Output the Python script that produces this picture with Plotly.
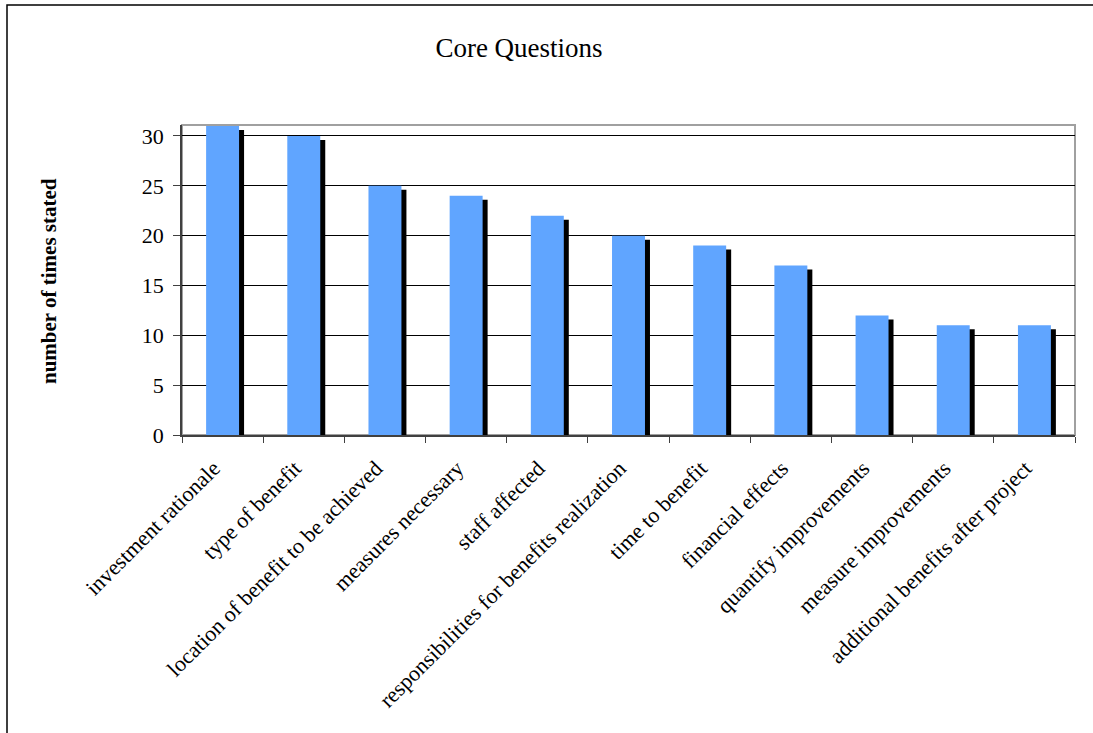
import plotly.graph_objects as go

categories = ["investment rationale", "type of benefit", "location of benefit to be achieved",
              "measures necessary", "staff affected", "responsibilities for benefits realization",
              "time to benefit", "financial effects", "quantify improvements",
              "measure improvements", "additional benefits after project"]
values = [31, 30, 25, 24, 22, 20, 19, 17, 12, 11, 11]

FONT = "Liberation Serif, Times New Roman, serif"
L, R, T, B = 182, 18, 125, 298
W, H = 1093, 733
pw = W - L - R
ph = H - T - B
ymax = 31.1

bw = 0.406
shift_x = 5 / (pw / len(categories))
shift_y = 4 / (ph / ymax)

fig = go.Figure()
fig.add_trace(go.Bar(x=categories, y=[v - shift_y for v in values], width=bw,
                     offset=-bw / 2 + shift_x, marker=dict(color="black", line_width=0),
                     hoverinfo="skip", showlegend=False))
fig.add_trace(go.Bar(x=categories, y=values, width=bw, offset=-bw / 2,
                     marker=dict(color="#60A5FF", line_width=0), showlegend=False))

# outer frame
fig.add_shape(type="rect", xref="paper", yref="paper",
              x0=(7 - L) / pw, x1=(W + 20 - L) / pw,
              y0=(H - B - (H + 20)) / ph, y1=(H - B - 5) / ph,
              line=dict(color="black", width=1.5), layer="below")
# plot area border
fig.add_shape(type="rect", xref="paper", yref="paper", x0=0, x1=1, y0=0, y1=1,
              line=dict(color="#A0A0A0", width=2), layer="below")

fig.add_annotation(text="<b>number of times stated</b>", xref="paper", yref="paper",
                   x=(49 - L) / pw, y=(H - B - 281) / ph, xanchor="center", yanchor="middle",
                   textangle=-90, showarrow=False, font=dict(size=21, family=FONT))

fig.update_layout(
    width=W, height=H, barmode="overlay",
    margin=dict(l=L, r=R, t=T, b=B),
    paper_bgcolor="white", plot_bgcolor="white",
    font=dict(family=FONT, color="black", size=21),
    title=dict(text="Core Questions", x=519 / W, xanchor="center",
               y=1 - 48 / H, yanchor="middle", font=dict(size=27, family=FONT)),
    xaxis=dict(type="category", tickangle=-45, tickson="boundaries", ticks="outside",
               ticklen=6, tickcolor="#404040", showline=True, linecolor="#404040",
               linewidth=1.5, showgrid=False, tickfont=dict(size=22, family=FONT),
               ticklabelstandoff=10, ticklabelshift=-9,
               range=[-0.5, len(categories) - 0.5]),
    yaxis=dict(range=[0, ymax], tickvals=[0, 5, 10, 15, 20, 25, 30], ticks="outside",
               ticklen=7, tickcolor="#404040", showline=True, linecolor="#404040",
               linewidth=1.5, showgrid=True, gridcolor="black", gridwidth=1,
               zeroline=False, tickfont=dict(size=22, family=FONT),
               ticklabelstandoff=5),
)

fig.write_html("out.html")
